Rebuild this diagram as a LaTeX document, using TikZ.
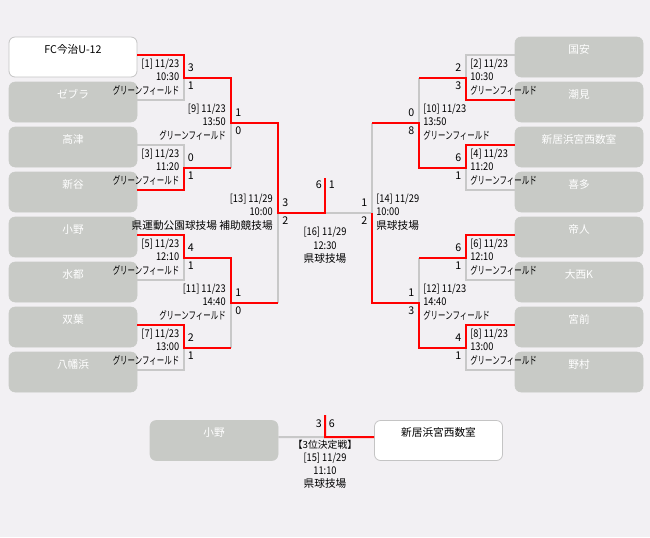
\documentclass[tikz,border=0pt]{standalone}
\usepackage{fontspec}
\setmainfont{Noto Sans CJK JP}
\definecolor{bgc}{HTML}{F2F0F3}
\definecolor{boxgray}{HTML}{C8CAC6}
\definecolor{bordergray}{HTML}{C4C4C4}
\definecolor{linegray}{HTML}{C8C8C8}
\definecolor{winred}{HTML}{FF0000}
\newcommand{\gfx}{\scalebox{0.7}[1]{グリーンフィールド}}
\newcommand{\nm}[1]{\scalebox{0.87}[1]{#1}}
\tikzset{
  teambox/.style={draw=boxgray, fill=boxgray, rounded corners=4.5pt, minimum width=96pt, minimum height=30pt, inner sep=0pt},
  whitebox/.style={teambox, fill=white, draw=bordergray, line width=0.6pt},
  teamtxt/.style={font=\fontsize{8}{9.6}\selectfont, text=white, inner sep=0pt},
  teamtxtb/.style={teamtxt, text=black},
  win/.style={draw=winred, line width=1.5pt, line join=miter},
  lose/.style={draw=linegray, line width=1.5pt, line join=miter},
  lbl/.style={font=\fontsize{8}{9.6}\selectfont, inner sep=0pt, text height=6.2pt, text depth=1.4pt},
  lblL/.style={lbl, anchor=east},
  lblR/.style={lbl, anchor=west},
  lblC/.style={lbl, anchor=center}
}
\begin{document}
\begin{tikzpicture}[x=0.75pt,y=-0.75pt]
\fill[bgc] (0,0) rectangle (650,537);
\useasboundingbox (0,0) rectangle (650,537);
% ---------- left boxes ----------
\node[whitebox] (L1) at (73,57) {};
\node[teambox] (L2) at (73,102) {};
\node[teambox] (L3) at (73,147) {};
\node[teambox] (L4) at (73,192) {};
\node[teambox] (L5) at (73,237) {};
\node[teambox] (L6) at (73,282) {};
\node[teambox] (L7) at (73,327) {};
\node[teambox] (L8) at (73,372) {};
% ---------- right boxes ----------
\node[teambox] (R1) at (579,57) {};
\node[teambox] (R2) at (579,102) {};
\node[teambox] (R3) at (579,147) {};
\node[teambox] (R4) at (579,192) {};
\node[teambox] (R5) at (579,237) {};
\node[teambox] (R6) at (579,282) {};
\node[teambox] (R7) at (579,327) {};
\node[teambox] (R8) at (579,372) {};
% ---------- third place boxes ----------
\node[teambox] (T1) at (214,440.5) {};
\node[whitebox] (T2) at (438.5,440.5) {};
% team names
\node[teamtxtb] at ([yshift=-9.4pt]L1.north) {FC今治U-12};
\node[teamtxt] at ([yshift=-9.4pt]L2.north) {ゼブラ};
\node[teamtxt] at ([yshift=-9.4pt]L3.north) {高津};
\node[teamtxt] at ([yshift=-9.4pt]L4.north) {新谷};
\node[teamtxt] at ([yshift=-9.4pt]L5.north) {小野};
\node[teamtxt] at ([yshift=-9.4pt]L6.north) {水都};
\node[teamtxt] at ([yshift=-9.4pt]L7.north) {双葉};
\node[teamtxt] at ([yshift=-9.4pt]L8.north) {八幡浜};
\node[teamtxt] at ([yshift=-9.4pt]R1.north) {国安};
\node[teamtxt] at ([yshift=-9.4pt]R2.north) {潮見};
\node[teamtxt] at ([yshift=-9.4pt]R3.north) {新居浜宮西数室};
\node[teamtxt] at ([yshift=-9.4pt]R4.north) {喜多};
\node[teamtxt] at ([yshift=-9.4pt]R5.north) {帝人};
\node[teamtxt] at ([yshift=-9.4pt]R6.north) {大西K};
\node[teamtxt] at ([yshift=-9.4pt]R7.north) {宮前};
\node[teamtxt] at ([yshift=-9.4pt]R8.north) {野村};
\node[teamtxt] at ([yshift=-9.4pt]T1.north) {小野};
\node[teamtxtb] at ([yshift=-9.4pt]T2.north) {新居浜宮西数室};
% ---------- match junction coordinates ----------
\coordinate (M1) at (183.5,77.5);
\coordinate (M3) at (183.5,167.5);
\coordinate (M5) at (183.5,257.5);
\coordinate (M7) at (183.5,347.5);
\coordinate (M9) at (231,122.5);
\coordinate (M11) at (231,302.5);
\coordinate (M13) at (278,212.5);
\coordinate (M16) at (325,212.5);
\coordinate (M16top) at (325,178);
\coordinate (M2) at (466,77.5);
\coordinate (M4) at (466,167.5);
\coordinate (M6) at (466,257.5);
\coordinate (M8) at (466,347.5);
\coordinate (M10) at (419,122.5);
\coordinate (M12) at (419,302.5);
\coordinate (M14) at (372,212.5);
\coordinate (M15) at (325,437);
\coordinate (M15top) at (325,415);
% ---------- losing lines ----------
\draw[lose] ([yshift=1.5pt]L2.east) -| (M1);
\draw[lose] ([yshift=1.5pt]L3.east) -| (M3);
\draw[lose] ([yshift=1.5pt]L6.east) -| (M5);
\draw[lose] ([yshift=1.5pt]L8.east) -| (M7);
\draw[lose] (M3 -| M9) -- (M9);
\draw[lose] (M7 -| M11) -- (M11);
\draw[lose] (M11 -| M13) -- (M13);
\draw[lose] ([yshift=1.5pt]R1.west) -| (M2);
\draw[lose] ([yshift=1.5pt]R4.west) -| (M4);
\draw[lose] ([yshift=1.5pt]R6.west) -| (M6);
\draw[lose] ([yshift=1.5pt]R8.west) -| (M8);
\draw[lose] (M2 -| M10) -- (M10);
\draw[lose] (M6 -| M12) -- (M12);
\draw[lose] (M10 -| M14) -- (M14);
\draw[lose] (M14) -- (M16);
\draw[lose] ([yshift=2.6pt]T1.east) -- (M15);
% ---------- winning lines ----------
\draw[win] ([yshift=1.5pt]L1.east) -| (M1) -- (M1 -| M9) -- (M9) -- (M9 -| M13) -- (M13) -- (M16) -- (M16top);
\draw[win] ([yshift=1.5pt]L4.east) -| (M3) -- (M3 -| M9);
\draw[win] ([yshift=1.5pt]L5.east) -| (M5) -- (M5 -| M11) -- (M11) -- (M11 -| M13);
\draw[win] ([yshift=1.5pt]L7.east) -| (M7) -- (M7 -| M11);
\draw[win] ([yshift=1.5pt]R2.west) -| (M2) -- (M2 -| M10);
\draw[win] ([yshift=1.5pt]R3.west) -| (M4) -- (M4 -| M10) -- (M10) -- (M10 -| M14);
\draw[win] ([yshift=1.5pt]R5.west) -| (M6) -- (M6 -| M12);
\draw[win] ([yshift=1.5pt]R7.west) -| (M8) -- (M8 -| M12) -- (M12) -- (M12 -| M14) -- (M14);
\draw[win] (M15top) -- (M15) -- ([yshift=2.6pt]T2.west);
% ---------- left labels ----------
% [1]
\node[lblL] at (179.5,64.5) {\nm{[1] 11/23}};
\node[lblL] at (179.5,77.5) {\nm{10:30}};
\node[lblL] at (179.5,91.5) {\gfx};
\node[lblR] at (187.5,68.5) {3};
\node[lblR] at (187.5,86.5) {1};
% [3]
\node[lblL] at (179.5,154.5) {\nm{[3] 11/23}};
\node[lblL] at (179.5,167.5) {\nm{11:20}};
\node[lblL] at (179.5,181.5) {\gfx};
\node[lblR] at (187.5,158.5) {0};
\node[lblR] at (187.5,176.5) {1};
% [5]
\node[lblL] at (179.5,244.5) {\nm{[5] 11/23}};
\node[lblL] at (179.5,257.5) {\nm{12:10}};
\node[lblL] at (179.5,271.5) {\gfx};
\node[lblR] at (187.5,248.5) {4};
\node[lblR] at (187.5,266.5) {1};
% [7]
\node[lblL] at (179.5,334.5) {\nm{[7] 11/23}};
\node[lblL] at (179.5,347.5) {\nm{13:00}};
\node[lblL] at (179.5,361.5) {\gfx};
\node[lblR] at (187.5,338.5) {2};
\node[lblR] at (187.5,356.5) {1};
% [9]
\node[lblL] at (226,109.5) {\nm{[9] 11/23}};
\node[lblL] at (226,122.5) {\nm{13:50}};
\node[lblL] at (226,136.5) {\gfx};
\node[lblR] at (235,113.5) {1};
\node[lblR] at (235,131.5) {0};
% [11]
\node[lblL] at (226,289.5) {\nm{[11] 11/23}};
\node[lblL] at (226,302.5) {\nm{14:40}};
\node[lblL] at (226,316.5) {\gfx};
\node[lblR] at (235,293.5) {1};
\node[lblR] at (235,311.5) {0};
% [13]
\node[lblL] at (273,199.5) {\nm{[13] 11/29}};
\node[lblL] at (273,212.5) {\nm{10:00}};
\node[lblL] at (273,226.5) {県運動公園球技場 補助競技場};
\node[lblR] at (282,203.5) {3};
\node[lblR] at (282,221.5) {2};
% ---------- right labels ----------
% [2]
\node[lblR] at (470,64.5) {\nm{[2] 11/23}};
\node[lblR] at (470,77.5) {\nm{10:30}};
\node[lblR] at (470,91.5) {\gfx};
\node[lblL] at (461.5,68.5) {2};
\node[lblL] at (461.5,86.5) {3};
% [4]
\node[lblR] at (470,154.5) {\nm{[4] 11/23}};
\node[lblR] at (470,167.5) {\nm{11:20}};
\node[lblR] at (470,181.5) {\gfx};
\node[lblL] at (461.5,158.5) {6};
\node[lblL] at (461.5,176.5) {1};
% [6]
\node[lblR] at (470,244.5) {\nm{[6] 11/23}};
\node[lblR] at (470,257.5) {\nm{12:10}};
\node[lblR] at (470,271.5) {\gfx};
\node[lblL] at (461.5,248.5) {6};
\node[lblL] at (461.5,266.5) {1};
% [8]
\node[lblR] at (470,334.5) {\nm{[8] 11/23}};
\node[lblR] at (470,347.5) {\nm{13:00}};
\node[lblR] at (470,361.5) {\gfx};
\node[lblL] at (461.5,338.5) {4};
\node[lblL] at (461.5,356.5) {1};
% [10]
\node[lblR] at (423,109.5) {\nm{[10] 11/23}};
\node[lblR] at (423,122.5) {\nm{13:50}};
\node[lblR] at (423,136.5) {\gfx};
\node[lblL] at (414.5,113.5) {0};
\node[lblL] at (414.5,131.5) {8};
% [12]
\node[lblR] at (423,289.5) {\nm{[12] 11/23}};
\node[lblR] at (423,302.5) {\nm{14:40}};
\node[lblR] at (423,316.5) {\gfx};
\node[lblL] at (414.5,293.5) {1};
\node[lblL] at (414.5,311.5) {3};
% [14]
\node[lblR] at (376,199.5) {\nm{[14] 11/29}};
\node[lblR] at (376,212.5) {\nm{10:00}};
\node[lblR] at (376,226.5) {県球技場};
\node[lblL] at (367.5,203.5) {1};
\node[lblL] at (367.5,221.5) {2};
% ---------- final [16] ----------
\node[lblL] at (322,185) {6};
\node[lblR] at (328.5,185) {1};
\node[lblC] at (325,232) {\nm{[16] 11/29}};
\node[lblC] at (325,246) {\nm{12:30}};
\node[lblC] at (325,259.5) {県球技場};
% ---------- third place [15] ----------
\node[lblL] at (322,424) {3};
\node[lblR] at (328.5,424) {6};
\node[lblC] at (325,445) {\scalebox{0.92}{【3位決定戦】}};
\node[lblC] at (325,458) {\nm{[15] 11/29}};
\node[lblC] at (325,471.5) {\nm{11:10}};
\node[lblC] at (325,484.5) {県球技場};
\end{tikzpicture}
\end{document}
